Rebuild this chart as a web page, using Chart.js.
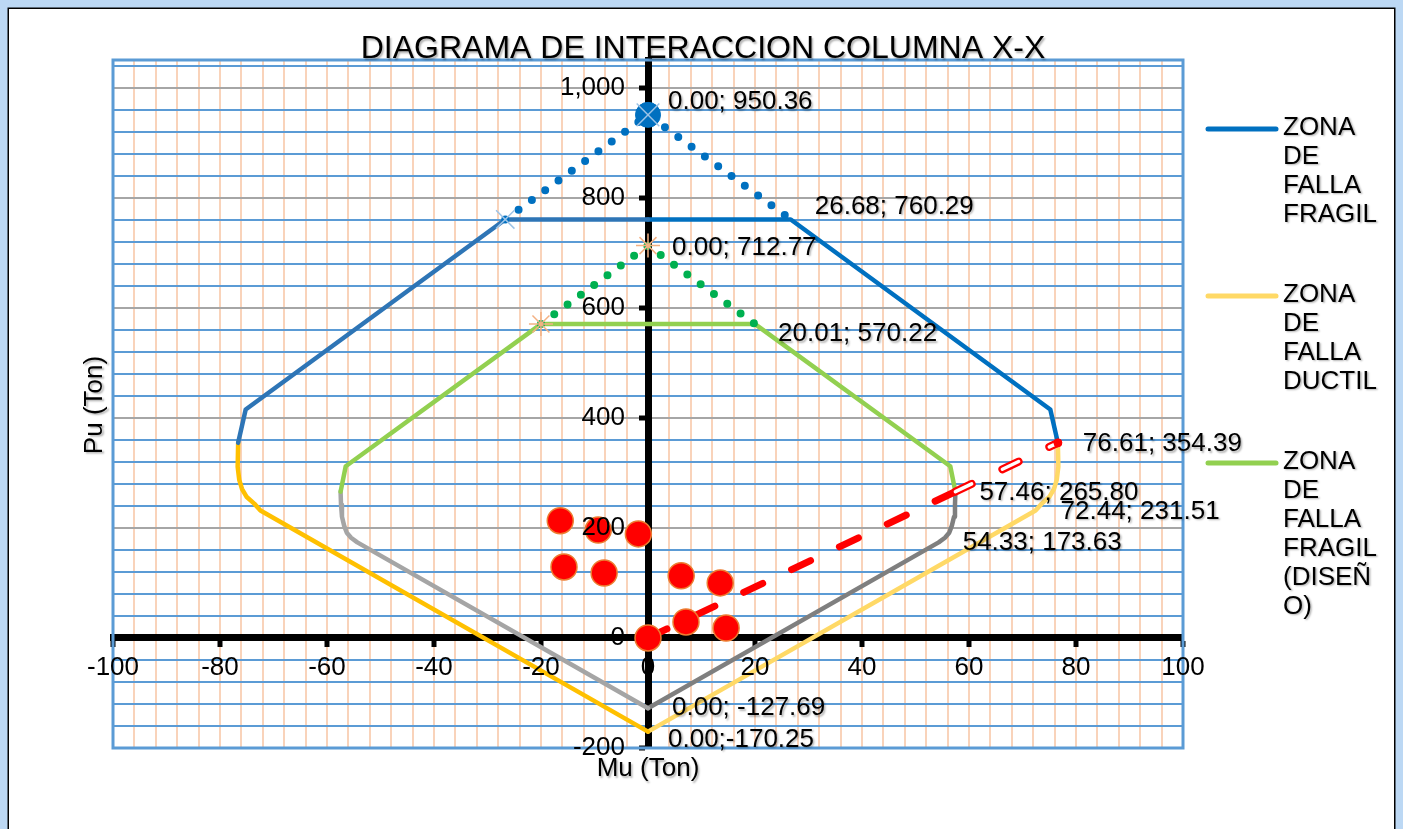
<!DOCTYPE html>
<html lang="es">
<head>
<meta charset="UTF-8" />
<title>Diagrama de interaccion columna X-X</title>
<script src="https://cdn.jsdelivr.net/npm/chart.js"></script>
<style>
  html, body { margin: 0; padding: 0; background: #fff; overflow: hidden; }
  #wrap { width: 1403px; height: 829px; }
</style>
</head>
<body>
<div id="wrap"><canvas id="interaccion" width="1403" height="829"></canvas></div>
<script>
  // Curvas de interaccion [Mu, Pu] en Ton
  const fragilIzq = [[-76.61, 354.39], [-75.2, 415], [-26.68, 760.29], [0, 760.29]];
  const fragilDer = [[0, 760.29], [26.68, 760.29], [75.2, 415], [76.61, 354.39]];
  const fragilPico = [[-26.68, 760.29], [0, 950.36], [26.68, 760.29]];

  const ductilIzq = [[-76.61, 354.39], [-76.7, 311], [-76.4, 287], [-75.9, 271], [-75.0, 256], [-73.6, 244], [-72.44, 231.51], [0, -170.25]];
  const ductilDer = [[0, -170.25], [72.44, 231.51], [73.6, 244], [75.0, 256], [75.9, 271], [76.4, 287], [76.7, 311], [76.61, 354.39]];

  const disenoFragil = [[-57.46, 265.80], [-56.5, 312], [-20.01, 570.22], [20.01, 570.22], [56.5, 312], [57.46, 265.80]];
  const disenoPico = [[-20.01, 570.22], [0, 712.77], [20.01, 570.22]];

  const disenoDuctilIzq = [[-57.46, 265.80], [-57.38, 242], [-57.2, 220], [-56.8, 204], [-56.3, 191], [-55.5, 182], [-54.33, 173.63], [0, -127.69]];
  const disenoDuctilDer = [[0, -127.69], [54.33, 173.63], [55.5, 182], [56.3, 191], [56.8, 204], [57.2, 220], [57.38, 242], [57.46, 265.80]];

  // Recta de excentricidad y combinaciones de carga
  const relacion = [[0, 0], [57.46, 265.80]];
  const relacionFin = [[57.46, 265.80], [76.61, 354.39]];
  const cargasMu = [-16.4, -9.3, -1.8, -15.7, -8.2, 6.2, 13.5, 0, 7.1, 14.6];
  const cargasPu = [213, 196, 189, 129, 118, 113, 100, 0, 29, 18];

  // Puntos rotulados con su valor
  const etiquetas = [[0, 950.36], [26.68, 760.29], [0, 712.77], [20.01, 570.22], [76.61, 354.39],
                     [57.46, 265.80], [72.44, 231.51], [54.33, 173.63], [0, -127.69], [0, -170.25]];

  const ticksMu = Array.from({ length: 51 }, (_, i) => -100 + 4 * i);
  const ticksPu = Array.from({ length: 32 }, (_, i) => -200 + 40 * i);

  const titulo = 'DIAGRAMA DE INTERACCION COLUMNA X-X';
  const tituloX = 'Mu (Ton)';
  const tituloY = 'Pu (Ton)';
  const leyenda = [
    { lineas: ['ZONA', 'DE', 'FALLA', 'FRAGIL'], color: '#0070C0' },
    { lineas: ['ZONA', 'DE', 'FALLA', 'DUCTIL'], color: '#FFD966' },
    { lineas: ['ZONA', 'DE', 'FALLA', 'FRAGIL', '(DISEÑ', 'O)'], color: '#92D050' }
  ];

  // desplazamiento de cada rotulo respecto a su punto (px)
  const posEtiquetas = [
    { dx: 20, dy: -13 }, { dx: 24, dy: -13 }, { dx: 24, dy: 2 }, { dx: 23, dy: 10 }, { dx: 25, dy: 1 },
    { dx: 24, dy: 1 }, { dx: 25, dy: 1 }, { dx: 24, dy: 0 }, { dx: 24, dy: 0 }, { dx: 20, dy: 8, sep: ';' }
  ];

  const FUENTE = '"Liberation Sans", Arial, sans-serif';
  const pts = arr => arr.map(([x, y]) => ({ x, y }));

  function linea(data, color, width, extra) {
    return Object.assign({
      data: pts(data), showLine: true, borderColor: color, borderWidth: width,
      pointRadius: 0, fill: false, borderCapStyle: 'round', borderJoinStyle: 'round'
    }, extra || {});
  }

  const esMayor = v => Math.abs(v % 200) < 1e-6;

  const marco = {
    id: 'marco',
    beforeDraw(chart) {
      const { ctx, width, height } = chart;
      // el eje Pu va centrado en Mu = 0: sus numeros se corren a la izquierda de la linea
      chart.scales.y.getLabelItems().forEach(it => {
        if (!it._corrido) { it.options.translation[0] -= 23; it._corrido = true; }
      });
      ctx.save();
      ctx.fillStyle = '#BCD8F4';
      ctx.fillRect(0, 0, width, height);
      ctx.fillStyle = '#fff';
      ctx.fillRect(9, 9, width - 18, height);
      ctx.strokeStyle = '#000';
      ctx.lineWidth = 1.5;
      ctx.strokeRect(8.25, 8.25, width - 16.5, height + 20);
      ctx.restore();
    },
    beforeDatasetsDraw(chart) {
      const { ctx, chartArea: a } = chart;
      ctx.save();
      ctx.strokeStyle = '#5B9BD5';
      ctx.lineWidth = 3;
      ctx.strokeRect(a.left, a.top, a.right - a.left, a.bottom - a.top);
      ctx.restore();
    }
  };

  const textos = {
    id: 'textos',
    afterDraw(chart) {
      const { ctx } = chart;
      const sx = chart.scales.x, sy = chart.scales.y;
      ctx.save();
      ctx.shadowColor = 'rgba(0,0,0,0.3)';
      ctx.shadowOffsetX = 1.5;
      ctx.shadowOffsetY = 1.5;
      ctx.shadowBlur = 2;
      ctx.fillStyle = '#000';

      ctx.font = '32px ' + FUENTE;
      ctx.textAlign = 'center';
      ctx.textBaseline = 'alphabetic';
      ctx.fillText(titulo, 703, 58);

      ctx.font = '26px ' + FUENTE;
      ctx.textBaseline = 'middle';
      ctx.fillText(tituloX, sx.getPixelForValue(0), 769);
      ctx.save();
      ctx.translate(95, 405);
      ctx.rotate(-Math.PI / 2);
      ctx.fillText(tituloY, 0, 0);
      ctx.restore();

      // rotulos de valores
      ctx.textAlign = 'left';
      etiquetas.forEach(([mu, pu], i) => {
        const p = posEtiquetas[i];
        const txt = mu.toFixed(2) + (p.sep || '; ') + pu.toFixed(2);
        ctx.fillText(txt, sx.getPixelForValue(mu) + p.dx, sy.getPixelForValue(pu) + p.dy);
      });

      // leyenda
      const yLeyenda = [129, 296, 463];
      leyenda.forEach((item, i) => {
        const y = yLeyenda[i];
        ctx.save();
        ctx.shadowColor = 'transparent';
        ctx.strokeStyle = item.color;
        ctx.lineWidth = 5;
        ctx.lineCap = 'round';
        ctx.beginPath();
        ctx.moveTo(1208, y);
        ctx.lineTo(1276, y);
        ctx.stroke();
        ctx.restore();
        item.lineas.forEach((t, j) => ctx.fillText(t, 1283, y - 1.5 + j * 29));
      });
      ctx.restore();
    }
  };

  const datasets = [
    { data: cargasMu.map((x, i) => ({ x, y: cargasPu[i] })), pointRadius: 13, pointBackgroundColor: '#FF0000',
      pointBorderColor: '#ED7D31', pointBorderWidth: 1.5 },
    { data: pts([[76.61, 354.39]]), pointRadius: 4, pointBackgroundColor: '#FF0000', pointBorderColor: '#FF0000', pointBorderWidth: 1 },
    { data: pts([[0, 950.36]]), pointStyle: 'crossRot', pointRadius: 16, pointBorderColor: '#9DC3E6', pointBorderWidth: 1.5 },
    { data: pts([[-26.68, 760.29]]), pointStyle: 'crossRot', pointRadius: 13, pointBorderColor: '#9DC3E6', pointBorderWidth: 1.5 },
    { data: pts([[0, 950.36]]), pointRadius: 12.5, pointBackgroundColor: '#0070C0', pointBorderColor: '#0070C0', pointBorderWidth: 1 },
    { data: pts([[0, 712.77], [-20.01, 570.22]]), pointStyle: 'star', pointRadius: 12, pointBorderColor: '#F4B183', pointBorderWidth: 1.5 },
    linea(relacionFin, '#FFFFFF', 3.5, { borderDash: [18, 34] }),
    linea(relacionFin, '#FF0000', 8, { borderDash: [18, 34] }),
    linea(relacion, '#FF0000', 7, { borderDash: [21, 32] }),
    linea(fragilPico, '#0070C0', 8, { borderDash: [0, 16.5] }),
    linea(disenoPico, '#00B050', 8, { borderDash: [0, 16.5] }),
    linea(fragilIzq, '#2E75B6', 4.5),
    linea(fragilDer, '#0070C0', 4.5),
    linea(disenoFragil, '#92D050', 4.5),
    linea(ductilIzq, '#FFC000', 4.5),
    linea(ductilDer, '#FFD966', 4.5),
    linea(disenoDuctilIzq, '#A5A5A5', 4.5),
    linea(disenoDuctilDer, '#7F7F7F', 4.5)
  ];

  const fuenteTicks = { family: FUENTE, size: 26 };

  new Chart(document.getElementById('interaccion'), {
    type: 'scatter',
    data: { datasets },
    options: {
      responsive: false,
      animation: false,
      events: [],
      layout: { padding: { left: 113, right: 220, top: 60, bottom: 81 } },
      plugins: { legend: { display: false }, tooltip: { enabled: false }, title: { display: false } },
      scales: {
        x: {
          type: 'linear',
          position: { y: 0 },
          min: -100,
          max: 100,
          afterBuildTicks: s => { s.ticks = ticksMu.map(v => ({ value: v })); },
          ticks: {
            autoSkip: false, maxRotation: 0, minRotation: 0, padding: 8, z: 1,
            font: fuenteTicks, color: '#000',
            callback: v => (Math.abs(v % 20) < 1e-6 ? String(v) : '')
          },
          grid: {
            color: c => (c.tick && c.tick.value === 0 ? 'rgba(0,0,0,0)' : '#F9D3BA'),
            lineWidth: 2,
            tickLength: 6,
            tickWidth: 5,
            tickColor: c => (c.tick && Math.abs(c.tick.value % 20) < 1e-6 ? '#000' : 'rgba(0,0,0,0)')
          },
          border: { color: '#000', width: 7 }
        },
        y: {
          type: 'linear',
          position: { x: 0 },
          min: -200,
          max: 1050,
          afterBuildTicks: s => { s.ticks = ticksPu.map(v => ({ value: v })); },
          ticks: {
            autoSkip: false, padding: 14, z: 1,
            font: fuenteTicks, color: '#000',
            callback: v => (esMayor(v) ? v.toLocaleString('en-US') : '')
          },
          grid: {
            color: c => {
              const v = c.tick ? c.tick.value : 1;
              if (v === 0) return 'rgba(0,0,0,0)';
              return esMayor(v) ? '#A6A6A6' : '#5B9BD5';
            },
            lineWidth: 2,
            tickLength: 6,
            tickWidth: 5,
            tickColor: c => (c.tick && esMayor(c.tick.value) ? '#000' : 'rgba(0,0,0,0)')
          },
          border: { color: '#000', width: 7 }
        }
      }
    },
    plugins: [marco, textos]
  });
</script>
</body>
</html>
